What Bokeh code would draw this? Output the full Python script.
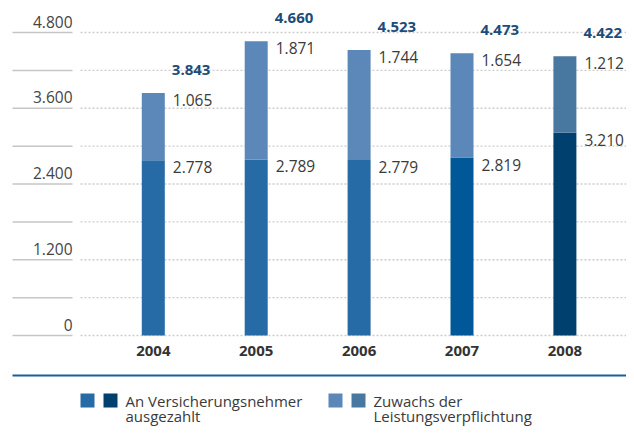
from bokeh.plotting import figure
from bokeh.models import ColumnDataSource, Range1d
from bokeh.core.properties import value
from bokeh.embed import file_html
from bokeh.resources import INLINE

# ---------------- data ----------------
years = ["2004", "2005", "2006", "2007", "2008"]
paid = [2778, 2789, 2779, 2819, 3210]          # An Versicherungsnehmer ausgezahlt
increase = [1065, 1871, 1744, 1654, 1212]      # Zuwachs der Leistungsverpflichtung
totals = [3843, 4660, 4523, 4473, 4422]
tick_values = [0, 1200, 2400, 3600, 4800]
grid_values = [0, 600, 1200, 1800, 2400, 3000, 3600, 4200, 4800]
legend_labels = ["An Versicherungsnehmer\nausgezahlt", "Zuwachs der\nLeistungsverpflichtung"]

# ---------------- styles ----------------
paid_colors = ["#266aa6", "#266aa6", "#266aa6", "#005898", "#00406e"]
inc_colors = ["#5b87b9", "#5b87b9", "#5b87b9", "#5b87b9", "#4878a0"]
FONT = value("Open Sans")
W, H = 626, 426

# pixel geometry of the reference (figure coordinates)
x0_img, dx_img = 152.8, 102.9   # first bar centre, spacing
y0_img, ppu = 335.0, 303.0 / 4800.0  # zero line, pixels per unit

x_start = -x0_img / dx_img
x_end = x_start + W / dx_img
y_start = -(H - y0_img) / ppu
y_end = y_start + H / ppu


def px_x(px):
    return x_start + px / dx_img


def px_y(py):
    return (y0_img - py) / ppu


def fmt(v):
    return f"{v:,}".replace(",", ".")


p = figure(width=W, height=H, output_backend="svg", toolbar_location=None,
           x_range=Range1d(x_start, x_end), y_range=Range1d(y_start, y_end),
           min_border=0, outline_line_color=None, background_fill_color="white",
           border_fill_color="white")
p.axis.visible = False
p.grid.visible = False

# grid lines: short solid part on the left, dotted part over plot area
p.segment(x0=[px_x(12)] * len(grid_values), x1=[px_x(72)] * len(grid_values),
          y0=grid_values, y1=grid_values, line_color="#c6c6c6", line_width=1.5)
p.segment(x0=[px_x(80)] * len(grid_values), x1=[px_x(634)] * len(grid_values),
          y0=grid_values, y1=grid_values, line_color="#cccccc", line_width=1.3,
          line_dash="2 2")

# tick labels above the lines
p.text(x=[px_x(72)] * len(tick_values), y=tick_values,
       text=[fmt(v) for v in tick_values], text_align="right", text_baseline="middle",
       y_offset=-11, text_font=FONT, text_font_size="15.5px", text_color="#444444")

xs = list(range(len(years)))
bw = 23 / dx_img
src = ColumnDataSource(dict(x=xs, paid=paid, inc=increase, total=totals,
                            pc=paid_colors, ic=inc_colors,
                            pl=[fmt(v) for v in paid], il=[fmt(v) for v in increase],
                            tl=[fmt(v) for v in totals], yr=years,
                            lx=[i + bw / 2 for i in xs]))

p.vbar(x="x", width=bw, bottom=0, top="paid", fill_color="pc", line_color=None, source=src)
p.vbar(x="x", width=bw, bottom="paid", top="total", fill_color="ic", line_color=None, source=src)

# value labels
p.text(x="lx", y="paid", text="pl", x_offset=8, y_offset=7, text_baseline="middle",
       text_font=FONT, text_font_size="15.5px", text_color="#3a3a3a", source=src)
p.text(x="lx", y="total", text="il", x_offset=8, y_offset=7, text_baseline="middle",
       text_font=FONT, text_font_size="15.5px", text_color="#3a3a3a", source=src)
p.text(x="lx", y="total", text="tl", x_offset=7, y_offset=-23, text_baseline="middle",
       text_font=FONT, text_font_size="15px", text_font_style="bold",
       text_color="#1b4c7a", source=src)

# year labels
p.text(x="x", y=0, text="yr", y_offset=15, text_align="center", text_baseline="middle",
       text_font=FONT, text_font_size="15px", text_font_style="bold",
       text_color="#333333", source=src)

# separator line
p.segment(x0=[px_x(12)], x1=[px_x(634)], y0=[px_y(375)], y1=[px_y(375)],
          line_color="#1d5e96", line_width=2.2)

# legend
sq = 14
leg_top = 393
leg_sq_x = [[80, 103], [328, 351]]
leg_sq_c = [[paid_colors[0], paid_colors[4]], [inc_colors[0], inc_colors[4]]]
leg_txt_x = [125, 373]
for k in range(2):
    for j in range(2):
        p.quad(left=[px_x(leg_sq_x[k][j])], right=[px_x(leg_sq_x[k][j] + sq)],
               top=[px_y(leg_top)], bottom=[px_y(leg_top + sq)],
               fill_color=leg_sq_c[k][j], line_color=None)
    lines = legend_labels[k].split("\n")
    p.text(x=[px_x(leg_txt_x[k])] * len(lines), y=[px_y(400), px_y(415)], text=lines,
           text_baseline="middle", text_font=FONT, text_font_size="15px",
           text_color="#3a3a3a")

open("out.html", "w").write(file_html(p, INLINE))
